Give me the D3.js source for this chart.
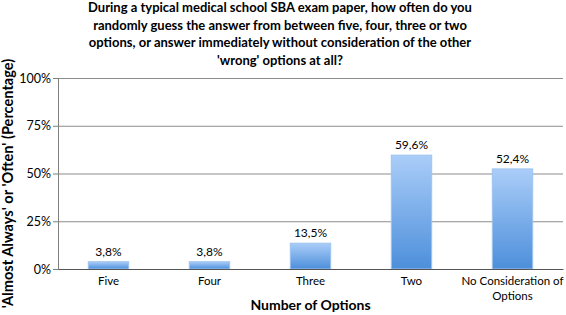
<!DOCTYPE html>
<html>
<head>
<meta charset="utf-8">
<script src="https://cdn.jsdelivr.net/npm/d3@7"></script>
<style>
  body { margin: 0; background: #fff; }
  svg { display: block; font-family: Lato, "Open Sans", sans-serif; }
</style>
</head>
<body>
<div id="viz"></div>
<script>
'use strict';

const categories = ['Five', 'Four', 'Three', 'Two', 'No Consideration of Options'];
const values = [3.8, 3.8, 13.5, 59.6, 52.4];
const yTicks = [0, 25, 50, 75, 100];
const titleLines = [
    'During a typical medical school SBA exam paper, how often do you',
    'randomly guess the answer from between five, four, three or two',
    'options, or answer immediately without consideration of the other',
    "'wrong' options at all?"
];
const yTitle = "'Almost Always' or 'Often' (Percentage)";
const xTitle = 'Number of Options';

const W = 566, H = 315;
const margin = { top: 78, right: 3, bottom: 46, left: 58 };
const width = W - margin.left - margin.right;
const height = H - margin.top - margin.bottom;

const svg = d3.select('#viz').append('svg')
    .attr('width', W).attr('height', H);

// gradient for the bars
const grad = svg.append('defs').append('linearGradient')
    .attr('id', 'barGrad').attr('x1', 0).attr('y1', 0).attr('x2', 0).attr('y2', 1);
grad.append('stop').attr('offset', '0%').attr('stop-color', '#aacdf8');
grad.append('stop').attr('offset', '100%').attr('stop-color', '#4d8fdb');

const g = svg.append('g').attr('transform', `translate(${margin.left},${margin.top})`);

const xScale = d3.scaleBand().domain(categories).range([0, width]).paddingInner(0.6).paddingOuter(0.3);
const yScale = d3.scaleLinear().domain([0, 100]).range([height, 0]);

// gridlines
g.append('g')
    .call(d3.axisLeft(yScale).tickValues(yTicks.filter(d => d > 0)).tickSize(-width).tickFormat(''))
    .call(a => a.select('.domain').remove())
    .selectAll('line').attr('stroke', '#8c8c8c').attr('stroke-width', 1);

// y axis
const yAxis = g.append('g')
    .call(d3.axisLeft(yScale).tickValues(yTicks).tickSize(5).tickFormat(d => d + '%'));
yAxis.select('.domain').attr('stroke', '#7f7f7f');
yAxis.selectAll('line').attr('stroke', '#7f7f7f');
yAxis.selectAll('text').attr('font-size', 12.5).attr('fill', '#000')
    .attr('font-family', 'Lato, sans-serif').attr('x', -7);

// bars
g.selectAll('.bar')
    .data(categories)
    .enter().append('rect')
    .attr('class', 'bar')
    .attr('x', d => xScale(d))
    .attr('width', xScale.bandwidth())
    .attr('y', (d, i) => yScale(values[i]))
    .attr('height', (d, i) => height - yScale(values[i]))
    .attr('fill', 'url(#barGrad)')
    .attr('stroke', '#9dc3ef')
    .attr('stroke-width', 1);

// value labels
g.selectAll('.val')
    .data(categories)
    .enter().append('text')
    .attr('x', d => xScale(d) + xScale.bandwidth() / 2)
    .attr('y', (d, i) => yScale(values[i]) - 6)
    .attr('text-anchor', 'middle')
    .attr('font-size', 12)
    .text((d, i) => values[i].toFixed(1).replace('.', ',') + '%');

// x axis
const xAxis = g.append('g')
    .attr('transform', `translate(0,${height})`)
    .call(d3.axisBottom(xScale).tickSize(0).tickFormat(''));
xAxis.select('.domain').attr('stroke', '#555').attr('stroke-width', 1.2);

// x labels (wrap the long one)
const xLabels = g.append('g').attr('transform', `translate(0,${height})`);
categories.forEach(c => {
    const lines = c.length > 20 ? ['No Consideration of', 'Options'] : [c];
    const t = xLabels.append('text')
        .attr('x', xScale(c) + xScale.bandwidth() / 2)
        .attr('y', 16)
        .attr('text-anchor', 'middle')
        .attr('font-size', 11.5);
    lines.forEach((l, i) => t.append('tspan')
        .attr('x', xScale(c) + xScale.bandwidth() / 2)
        .attr('dy', i === 0 ? 0 : 15)
        .text(l));
});

// Title
const title = svg.append('text')
    .attr('x', 280).attr('y', 12)
    .attr('text-anchor', 'middle')
    .attr('font-size', 13)
    .attr('font-weight', 'bold');
titleLines.forEach((l, i) => title.append('tspan')
    .attr('x', 280).attr('dy', i === 0 ? 0 : 17.7).text(l));

// axis titles
svg.append('text')
    .attr('transform', `translate(13,${margin.top + height / 2 + 10}) rotate(-90)`)
    .attr('text-anchor', 'middle')
    .attr('font-size', 14.6)
    .attr('font-weight', 'bold')
    .text(yTitle);

svg.append('text')
    .attr('x', margin.left + width / 2)
    .attr('y', 310)
    .attr('text-anchor', 'middle')
    .attr('font-size', 14)
    .attr('font-weight', 'bold')
    .text(xTitle);
</script>
</body>
</html>
